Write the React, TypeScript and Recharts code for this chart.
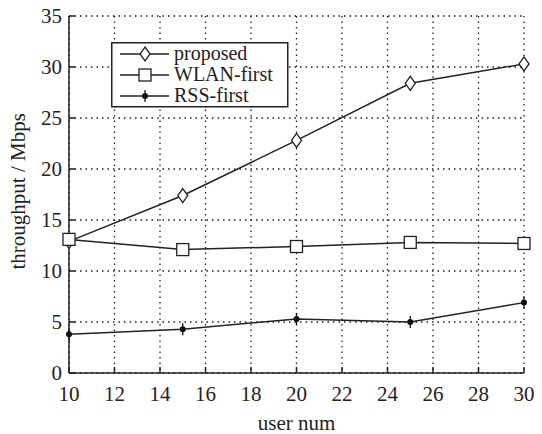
import React from "react";
import { LineChart, Line, XAxis, YAxis, CartesianGrid } from "recharts";

const userNum = [10, 15, 20, 25, 30];
const proposed = [12.9, 17.4, 22.8, 28.4, 30.3];
const wlanFirst = [13.1, 12.1, 12.4, 12.8, 12.7];
const rssFirst = [3.8, 4.3, 5.3, 5.0, 6.9];
const xTicks = [10, 12, 14, 16, 18, 20, 22, 24, 26, 28, 30];
const yTicks = [0, 5, 10, 15, 20, 25, 30, 35];

const data = userNum.map((u, i) => ({
  u,
  proposed: proposed[i],
  wlan: wlanFirst[i],
  rss: rssFirst[i],
}));

const FONT = "'Liberation Serif', 'Times New Roman', serif";

const Diamond = ({ cx, cy }: any) =>
  cx == null ? null : (
    <path d={`M${cx},${cy - 7} L${cx + 5},${cy} L${cx},${cy + 7} L${cx - 5},${cy} Z`} fill="#fff" stroke="#222" strokeWidth={1.3} />
  );

const Square = ({ cx, cy }: any) =>
  cx == null ? null : (
    <rect x={cx - 6} y={cy - 6} width={12} height={12} fill="#fff" stroke="#222" strokeWidth={1.3} />
  );

const Star = ({ cx, cy }: any) =>
  cx == null ? null : (
    <g>
      <circle cx={cx} cy={cy} r={3} fill="#111" />
      <line x1={cx} y1={cy - 6} x2={cx} y2={cy + 6} stroke="#111" strokeWidth={1.3} />
    </g>
  );

const legendItems = [
  { name: "proposed", M: Diamond },
  { name: "WLAN-first", M: Square },
  { name: "RSS-first", M: Star },
];

const LegendBox = () => (
  <svg width={178} height={66} style={{ display: "block" }}>
    <rect x={0.75} y={0.75} width={176} height={64} fill="#fff" stroke="#222" strokeWidth={1.5} />
    {legendItems.map((it, i) => {
      const y = 12 + i * 21;
      const M = it.M;
      return (
        <g key={it.name}>
          <line x1={9} y1={y} x2={58} y2={y} stroke="#222" strokeWidth={1.5} />
          <M cx={34} cy={y} />
          <text x={63} y={y + 6} fontSize={20} fontFamily={FONT} fill="#222">
            {it.name}
          </text>
        </g>
      );
    })}
  </svg>
);

export default function App() {
  return (
    <div style={{ position: "absolute", left: 0, top: 0, width: 542, height: 434, background: "#fff" }}>
      <LineChart width={542} height={434} data={data} margin={{ top: 16, right: 18, bottom: 0, left: 0 }}>
        <CartesianGrid stroke="#222" strokeDasharray="1.5 4" strokeWidth={1.3} />
        <XAxis
          dataKey="u"
          type="number"
          domain={[10, 30]}
          ticks={xTicks}
          height={61}
          tickSize={-6}
          tickMargin={19}
          stroke="#222"
          strokeWidth={1.5}
          tick={{ fill: "#222", fontSize: 21, fontFamily: FONT }}
          label={{ value: "user num", position: "insideBottom", offset: 4, fill: "#222", fontSize: 21, fontFamily: FONT }}
        />
        <XAxis xAxisId="top" dataKey="u" type="number" domain={[10, 30]} ticks={xTicks} orientation="top" height={0} tick={false} tickSize={-6} stroke="#222" strokeWidth={1.5} />
        <YAxis
          type="number"
          domain={[0, 35]}
          ticks={yTicks}
          width={69}
          tickSize={-6}
          tickMargin={13}
          stroke="#222"
          strokeWidth={1.5}
          tick={{ fill: "#222", fontSize: 21, fontFamily: FONT }}
          label={{ value: "throughput / Mbps", angle: -90, position: "insideLeft", offset: 18, dy: 75, fill: "#222", fontSize: 21, fontFamily: FONT }}
        />
        <YAxis yAxisId="right" type="number" domain={[0, 35]} ticks={yTicks} orientation="right" width={0} tick={false} tickSize={-6} stroke="#222" strokeWidth={1.5} />
        <Line dataKey="proposed" name="proposed" stroke="#222" strokeWidth={1.5} dot={<Diamond />} isAnimationActive={false} />
        <Line dataKey="wlan" name="WLAN-first" stroke="#222" strokeWidth={1.5} dot={<Square />} isAnimationActive={false} />
        <Line dataKey="rss" name="RSS-first" stroke="#222" strokeWidth={1.5} dot={<Star />} isAnimationActive={false} />
      </LineChart>
      <div style={{ position: "absolute", left: 111, top: 42 }}>
        <LegendBox />
      </div>
    </div>
  );
}
